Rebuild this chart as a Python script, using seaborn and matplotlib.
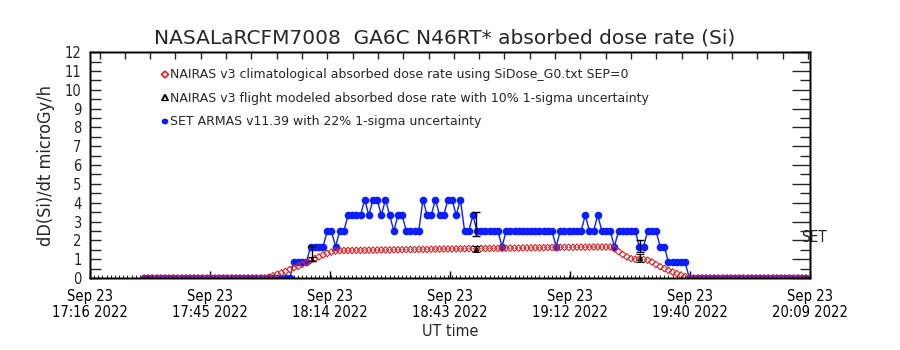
import numpy as np
import pandas as pd
import matplotlib
matplotlib.use("Agg")
import matplotlib.pyplot as plt
from matplotlib.lines import Line2D
import seaborn as sns

# ---------------- data ----------------
title = "NASALaRCFM7008  GA6C N46RT* absorbed dose rate (Si)"
ylabel = "dD(Si)/dt microGy/h"
xlabel = "UT time"
legend_labels = [
    "NAIRAS v3 climatological absorbed dose rate using SiDose_G0.txt SEP=0",
    "NAIRAS v3 flight modeled absorbed dose rate with 10% 1-sigma uncertainty",
    "SET ARMAS v11.39 with 22% 1-sigma uncertainty",
]
# time in minutes after 00:00 UT, 23 Sep 2022
tick_minutes = [1036.0, 1064.83, 1093.67, 1122.5, 1151.33, 1180.17, 1209.0]
tick_labels = ["Sep 23\n17:16 2022", "Sep 23\n17:45 2022", "Sep 23\n18:14 2022",
               "Sep 23\n18:43 2022", "Sep 23\n19:12 2022", "Sep 23\n19:40 2022",
               "Sep 23\n20:09 2022"]
sample_minutes = np.arange(1049, 1209)  # one-minute samples

nairas_clim = [
    0, 0, 0, 0, 0, 0, 0, 0, 0, 0, 0, 0, 0, 0, 0, 0, 0, 0, 0, 0,
    0, 0, 0, 0, 0, 0, 0, 0, 0, 0,
    0.05, 0.12, 0.20, 0.27, 0.35, 0.45, 0.55, 0.62, 0.72, 0.82,
    0.93, 1.03, 1.12, 1.22, 1.30, 1.38, 1.43,
    1.45, 1.46, 1.46, 1.46, 1.47, 1.47, 1.47, 1.48, 1.48, 1.48,
    1.49, 1.49, 1.49, 1.50, 1.50, 1.50, 1.51, 1.51, 1.51, 1.52,
    1.52, 1.52, 1.53, 1.53, 1.53, 1.54, 1.54, 1.54, 1.55, 1.55,
    1.55, 1.56, 1.56, 1.56, 1.57, 1.57, 1.57, 1.58, 1.58, 1.58,
    1.58, 1.59, 1.59, 1.59, 1.60, 1.60, 1.60, 1.61, 1.61, 1.61,
    1.62, 1.62, 1.62, 1.63, 1.63, 1.63, 1.63, 1.64, 1.64, 1.64,
    1.64, 1.65, 1.65, 1.65, 1.65, 1.65,
    1.55, 1.40, 1.25, 1.12, 1.03, 1.00, 1.00, 0.98, 0.95, 0.85,
    0.72, 0.60, 0.50, 0.40, 0.32, 0.24, 0.16, 0.08, 0.02,
    0, 0, 0, 0, 0, 0, 0, 0, 0, 0, 0, 0, 0, 0, 0, 0, 0, 0, 0, 0,
    0, 0, 0, 0, 0, 0, 0, 0,
]

set_armas = [
    0, 0, 0, 0, 0, 0, 0, 0, 0, 0, 0, 0, 0, 0, 0, 0, 0, 0, 0, 0,
    0, 0, 0, 0, 0, 0, 0, 0, 0, 0, 0, 0, 0, 0, 0, 0,
    0.83, 0.83, 0.83, 0.83,
    1.67, 1.67, 1.67, 1.67,
    2.50, 2.50, 1.67, 2.50, 2.50,
    3.33, 3.33, 3.33, 3.33,
    4.17, 3.33, 4.17, 4.17, 3.33, 4.17, 3.33, 2.50, 3.33, 3.33,
    2.50, 2.50, 2.50, 2.50,
    4.17, 3.33, 3.33, 4.17, 3.33, 3.33, 4.17, 4.17, 3.33, 4.17,
    2.50, 2.50, 3.33,
    2.50, 2.50, 2.50, 2.50, 2.50, 2.50, 1.67,
    2.50, 2.50, 2.50, 2.50, 2.50, 2.50, 2.50, 2.50, 2.50, 2.50, 2.50, 2.50,
    1.67,
    2.50, 2.50, 2.50, 2.50, 2.50, 2.50, 3.33, 2.50, 2.50, 3.33,
    2.50, 2.50, 2.50, 1.67, 2.50, 2.50, 2.50, 2.50, 2.50,
    1.67, 1.67, 2.50, 2.50, 2.50, 1.67, 1.67,
    0.83, 0.83, 0.83, 0.83, 0.83,
    0, 0, 0, 0, 0, 0, 0, 0, 0, 0, 0, 0, 0, 0, 0, 0, 0, 0, 0, 0,
    0, 0, 0, 0, 0, 0, 0, 0, 0,
]

# flight modeled NAIRAS points (10%) and SET uncertainty bars (22%)
bar_minutes = [1049.8, 1089.3, 1128.7, 1168.2, 1207.7]
nairas_flight = [0.0, 1.01, 1.56, 1.07, 0.0]
nairas_flight_err = [0.0, 0.11, 0.16, 0.20, 0.0]
set_bar_center = [0.0, 1.31, 2.88, 1.71, 0.0]
set_bar_err = [0.0, 0.41, 0.65, 0.31, 0.0]

# ---------------- style ----------------
sns.set_theme(style="white")
plt.rcParams["font.family"] = ["DejaVu Sans"]
plt.rcParams["axes.edgecolor"] = "black"
plt.rcParams["axes.linewidth"] = 1.0
NARROW = dict(family=["DejaVu Sans"], stretch="condensed")

RED = "#d42a2a"
BLUE = "#0a1eff"

fig, ax = plt.subplots(figsize=(9, 3.5), dpi=100)
fig.subplots_adjust(left=0.1, right=0.9, bottom=0.2057, top=0.851)

df_set = pd.DataFrame({"t": sample_minutes, "v": set_armas})
df_clim = pd.DataFrame({"t": sample_minutes, "v": nairas_clim})

sns.lineplot(data=df_set, x="t", y="v", ax=ax, color=BLUE, linewidth=1.0,
             marker="o", markersize=5.5, markeredgewidth=0, zorder=2)
sns.scatterplot(data=df_clim, x="t", y="v", ax=ax, marker="D", s=11,
                facecolor="none", edgecolor=RED, linewidth=0.8, zorder=3)

ax.errorbar(bar_minutes, set_bar_center, yerr=set_bar_err, fmt="none",
            ecolor="black", elinewidth=1.0, capsize=3, capthick=1.0, zorder=4)
ax.errorbar(bar_minutes, nairas_flight, yerr=nairas_flight_err, fmt="^",
            color="black", mfc="none", ms=3, mew=0.7, elinewidth=1.0,
            capsize=3, capthick=1.0, zorder=4)

ax.set_xlim(tick_minutes[0], tick_minutes[-1])
ax.set_ylim(0, 12)
ax.set_xticks(tick_minutes)
ax.set_xticklabels(tick_labels, fontsize=10.5, linespacing=1.1, **NARROW)
ax.set_xticks(np.arange(1037, 1209, 1.0), minor=True)
ax.set_yticks(range(0, 13))
ax.set_yticklabels([str(v) for v in range(0, 13)], fontsize=10.5, **NARROW)
ax.set_yticks(np.arange(0.5, 12, 1.0), minor=True)
ax.tick_params(axis="x", which="major", direction="in", length=5, width=1,
               pad=8, colors="black", bottom=True)
ax.tick_params(axis="x", which="minor", direction="in", length=2, width=0.8,
               bottom=True)
ax.tick_params(axis="y", which="major", direction="in", length=8, width=1,
               pad=6, left=True)
ax.tick_params(axis="y", which="minor", direction="in", length=8, width=1,
               left=True)
ax.set_xlabel(xlabel, fontsize=11.5, labelpad=3, **NARROW)
ax.set_ylabel(ylabel, fontsize=13, labelpad=7, **NARROW)
ax.set_title(title, fontsize=14.5, pad=6, x=0.493)

# right axis
axr = ax.twinx()
axr.set_ylim(0, 12)
axr.set_yticks(range(0, 13))
axr.set_yticks(np.arange(0.5, 12, 1.0), minor=True)
axr.tick_params(axis="y", which="major", direction="in", length=13, width=1,
                labelright=False, right=True)
axr.tick_params(axis="y", which="minor", direction="in", length=7, width=1,
                right=True)
axr.grid(False)

# top axis
axt = ax.twiny()
axt.set_xlim(tick_minutes[0], tick_minutes[-1])
axt.set_xticks(np.arange(1038.3, 1209, 6.08))
axt.tick_params(axis="x", direction="in", length=5, width=1, labeltop=False,
                top=True)
axt.grid(False)

ax.text(0.987, 0.18, "SET", transform=ax.transAxes, fontsize=11,
        ha="left", va="center", **NARROW)

handles = [
    Line2D([], [], marker="D", mfc="none", mec=RED, ls="none", ms=3.5, mew=0.8),
    Line2D([], [], marker="^", mfc="none", mec="black", ls="none", ms=4, mew=0.8),
    Line2D([], [], marker="o", color=BLUE, ls="-", ms=4, mew=0, lw=1),
]
leg = ax.legend(handles, legend_labels, loc="upper left",
                bbox_to_anchor=(160 / 900, 1 - 68 / 350),
                bbox_transform=fig.transFigure, frameon=False, fontsize=9,
                numpoints=2, handlelength=0.7, handletextpad=0.1,
                labelspacing=0.85, borderpad=0, borderaxespad=0)

fig.savefig("out.png", dpi=100, facecolor="white")
